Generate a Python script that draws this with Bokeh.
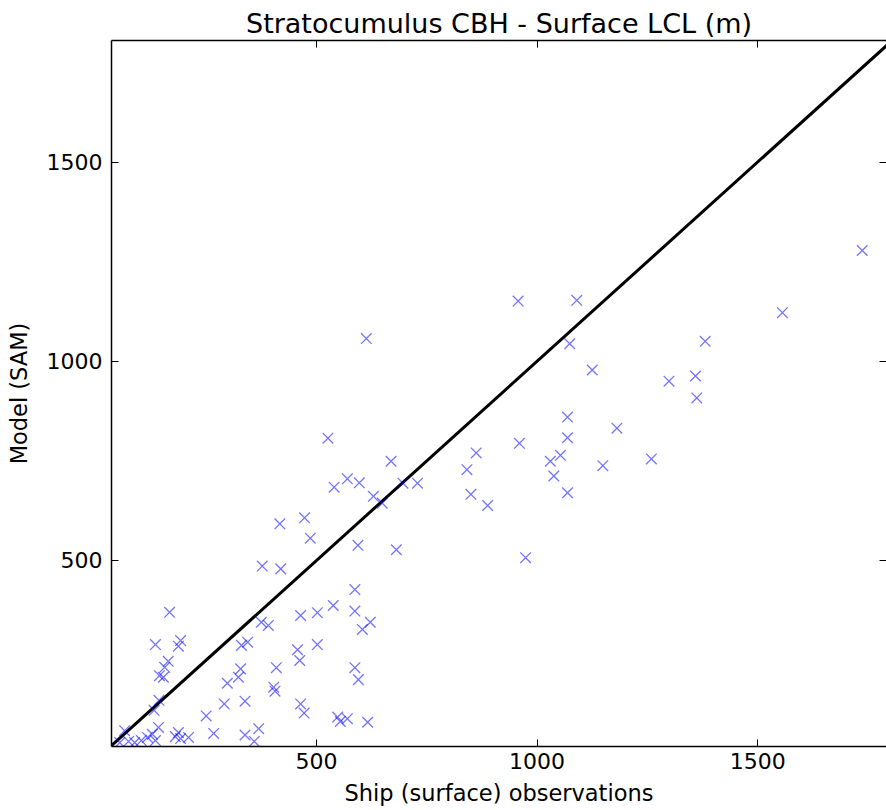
from bokeh.plotting import figure
from bokeh.models import ColumnDataSource, LinearAxis, FixedTicker, Range1d
from bokeh.embed import file_html
from bokeh.resources import INLINE

# Ship (surface) observations vs Model (SAM), metres
obs_x = [1737, 1556, 957, 1090, 613, 1074, 1381, 1125, 1299, 1359, 1362, 1069, 1181, 960,
         1069, 862, 1053, 1030, 1259, 1149, 669, 841, 1038, 696, 729, 850, 1069, 888, 649,
         681, 974, 526, 570, 597, 540, 629, 473, 486, 594, 417, 377, 419, 587, 167, 464,
         502, 538, 587, 622, 604, 375, 391, 135, 192, 187, 330, 344, 457, 502, 462, 409,
         587, 595, 164, 156, 144, 153, 328, 323, 298, 403, 406, 143, 132, 291, 338, 464,
         472, 250, 548, 570, 554, 616, 267, 338, 369, 359, 65, 54, 74, 88, 103, 117, 128,
         135, 142, 180, 187, 192, 210]
model_y = [1278, 1122, 1151, 1153, 1057, 1044, 1050, 978, 950, 963, 908, 860, 832, 794,
           808, 770, 764, 749, 755, 738, 749, 728, 712, 694, 694, 666, 670, 638, 644,
           527, 507, 807, 705, 695, 684, 661, 607, 556, 538, 592, 486, 479, 427, 370, 362,
           369, 387, 373, 345, 327, 345, 337, 289, 299, 285, 287, 295, 276, 289, 249, 231,
           231, 201, 247, 232, 211, 207, 228, 207, 192, 182, 172, 149, 124, 140, 147, 140,
           117, 110, 107, 103, 96, 94, 66, 62, 78, 46, 73, 43, 46, 43, 48, 56, 64,
           48, 81, 58, 68, 53, 56]
one_to_one = [0, 2000]
tick_values = [500, 1000, 1500]
x_lim = (35.4, 1792)
y_lim = (33.2, 1805)

FONT = "DejaVu Sans"

p = figure(width=886, height=810, output_backend="svg", toolbar_location=None,
           x_range=Range1d(*x_lim), y_range=Range1d(*y_lim),
           min_border_left=111, min_border_right=0, min_border_top=40, min_border_bottom=64,
           title="Stratocumulus CBH - Surface LCL (m)")
p.outline_line_color = None
p.grid.visible = False
p.background_fill_color = "white"
p.border_fill_color = "white"

p.title.align = "center"
p.title.text_font = FONT
p.title.text_font_size = "27px"
p.title.text_font_style = "normal"
p.title.text_color = "black"
p.title.standoff = 4

def style_axis(ax, labels=True):
    ax.ticker = FixedTicker(ticks=tick_values)
    ax.minor_tick_line_color = None
    ax.major_tick_in = 7
    ax.major_tick_out = 0
    ax.major_tick_line_color = "black"
    ax.major_tick_line_width = 1
    ax.axis_line_color = "black"
    ax.axis_line_width = 1.5
    ax.major_label_text_font = FONT
    ax.major_label_text_color = "black"
    ax.axis_label_text_font = FONT
    ax.axis_label_text_font_style = "normal"
    ax.axis_label_text_color = "black"
    if not labels:
        ax.major_label_text_color = None
        ax.major_label_text_font_size = "0px"
        ax.major_label_standoff = 0

xa = p.xaxis[0]
style_axis(xa)
xa.major_label_text_font_size = "22px"
xa.major_label_standoff = 6
xa.axis_label = "Ship (surface) observations"
xa.axis_label_text_font_size = "22.5px"
xa.axis_label_standoff = 8

ya = p.yaxis[0]
style_axis(ya)
ya.major_label_text_font_size = "22px"
ya.major_label_standoff = 9
ya.major_label_orientation = "horizontal"
ya.axis_label = "Model (SAM)"
ya.axis_label_text_font_size = "22.5px"
ya.axis_label_standoff = 12

top_ax = LinearAxis()
style_axis(top_ax, labels=False)
p.add_layout(top_ax, "above")

right_ax = LinearAxis()
style_axis(right_ax, labels=False)
right_ax.axis_line_color = None
p.add_layout(right_ax, "right")

p.line(one_to_one, one_to_one, line_color="black", line_width=3)

src = ColumnDataSource(data=dict(x=obs_x, y=model_y))
p.scatter("x", "y", source=src, marker="x", size=15, line_color="blue",
          line_alpha=0.55, line_width=1.3)

open("out.html", "w").write(file_html(p, INLINE))
